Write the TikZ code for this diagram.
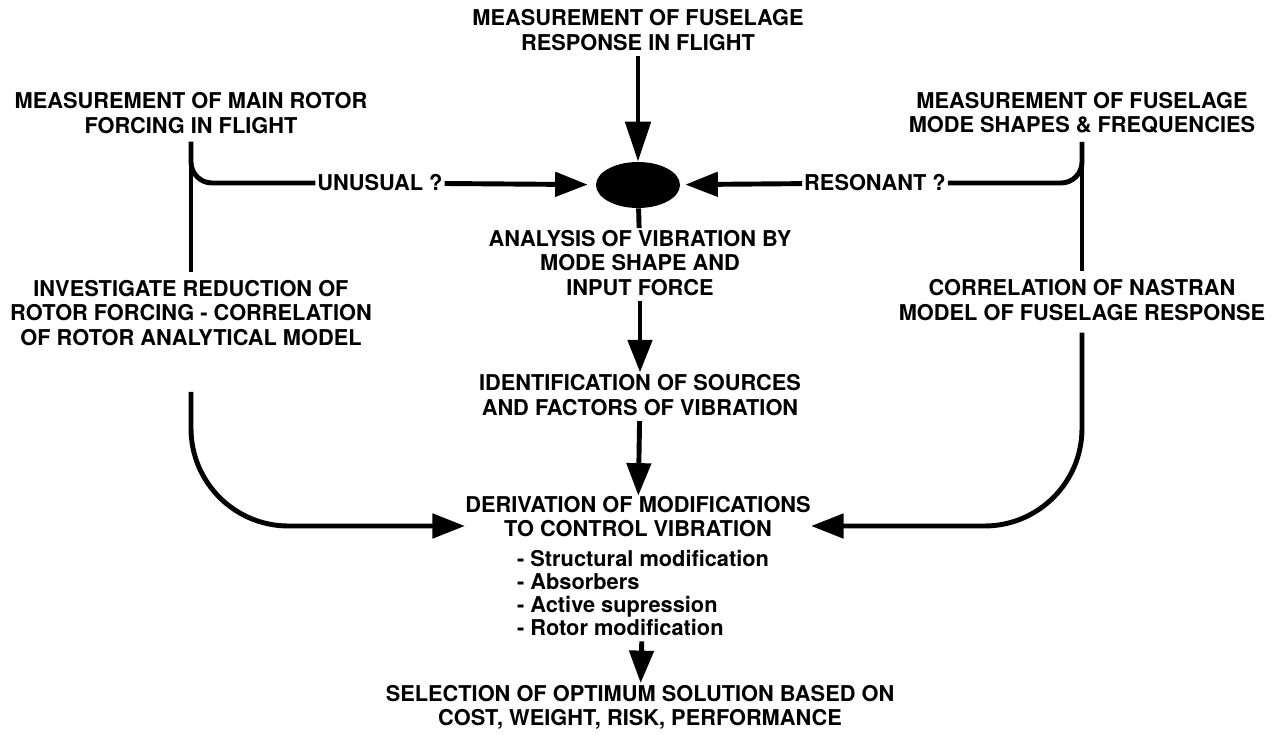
\documentclass[tikz,border=0pt]{standalone}
\usepackage{fontspec}
\setmainfont{TeX Gyre Heros}
\usetikzlibrary{arrows.meta,shapes.geometric}

\tikzset{
	lbl/.style={font=\fontsize{12.4}{14}\selectfont\bfseries, align=center, inner sep=1pt},
	listlbl/.style={font=\fontsize{12.4}{13.1}\selectfont\bfseries, align=left, inner sep=1pt},
	flow/.style={line width=2.8pt},
	flowarrow/.style={line width=2.8pt, -{Triangle[length=0.65cm, width=0.48cm]}},
}

\begin{document}
\begin{tikzpicture}
			%%%%% START %%%%%
			
			\useasboundingbox (0, 0) rectangle (25.56, 14.68);
			
			% measurements on top
			\node[lbl] (response) at (12.76, 14.08) {MEASUREMENT OF FUSELAGE\\RESPONSE IN FLIGHT};
			\node[lbl] (forcing) at (3.82, 12.42) {MEASUREMENT OF MAIN ROTOR\\FORCING IN FLIGHT};
			\node[lbl] (modes) at (21.64, 12.42) {MEASUREMENT OF FUSELAGE\\MODE SHAPES \& FREQUENCIES};
			
			\node[ellipse, fill=black, minimum width=1.68cm, minimum height=0.92cm, inner sep=0pt] (check) at (12.76, 10.98) {};
			\node[lbl] (unusual) at (7.6, 11.02) {UNUSUAL ?};
			\node[lbl] (resonant) at (17.5, 11.02) {RESONANT ?};
			
			% middle column
			\node[lbl] (analysis) at (12.8, 9.42) {ANALYSIS OF VIBRATION BY\\MODE SHAPE AND\\INPUT FORCE};
			\node[lbl] (investigate) at (3.82, 8.42) {INVESTIGATE REDUCTION OF\\ROTOR FORCING - CORRELATION\\OF ROTOR ANALYTICAL MODEL};
			\node[lbl] (nastran) at (21.64, 8.68) {CORRELATION OF NASTRAN\\MODEL OF FUSELAGE RESPONSE};
			\node[lbl] (sources) at (12.8, 6.78) {IDENTIFICATION OF SOURCES\\AND FACTORS OF VIBRATION};
			
			% bottom
			\node[lbl, inner sep=0pt] (derivation) at (12.76, 4.35) {DERIVATION OF MODIFICATIONS\\TO CONTROL VIBRATION};
			\node[listlbl, anchor=west] (measures) at (10.3, 2.82) {- Structural modification\\- Absorbers\\- Active supression\\- Rotor modification};
			\node[lbl] (selection) at (12.8, 0.53) {SELECTION OF OPTIMUM SOLUTION BASED ON\\COST, WEIGHT, RISK, PERFORMANCE};
			
			% connectors
			\draw[flowarrow, shorten <=2pt, -{Triangle[length=0.8cm, width=0.5cm]}] (response) -- (check);
			
			\draw[flow] ([yshift=-0.12cm]forcing.south) -- ([yshift=0.12cm]investigate.north);
			\draw[flow, rounded corners=0.42cm] ([yshift=-0.12cm]forcing.south) |- (unusual.west);
			\draw[flowarrow, shorten >=0.16cm] (unusual) -- (check);
			
			\draw[flow] ([yshift=-0.12cm]modes.south) -- ([yshift=0.12cm]nastran.north);
			\draw[flow, rounded corners=0.42cm] ([yshift=-0.12cm]modes.south) |- (resonant.east);
			\draw[flowarrow, shorten >=0.1cm] (resonant) -- (check);
			
			\draw[flow] (check) -- (analysis);
			\draw[flowarrow, shorten <=2pt] (analysis) -- (sources);
			\draw[flowarrow, shorten <=2pt] (sources) -- (derivation);
			\draw[flowarrow, shorten <=2pt] (measures) -- (selection);
			
			\draw[flowarrow, rounded corners=1.95cm] ([yshift=-0.88cm]investigate.south) |- ([yshift=-0.19cm]derivation.west);
			\draw[flowarrow, rounded corners=1.95cm] ([yshift=-0.2cm]nastran.south) |- ([yshift=-0.19cm]derivation.east);
			
			%%%%% END %%%%%
\end{tikzpicture}
\end{document}
